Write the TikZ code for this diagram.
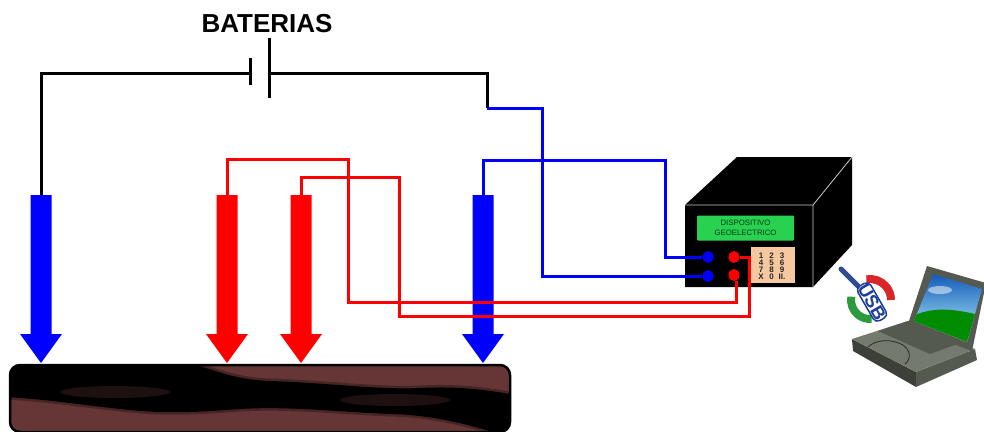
\documentclass[tikz,border=0pt]{standalone}
\usepackage{fontspec}
\setmainfont{Liberation Sans}
\usetikzlibrary{shapes.geometric}
\definecolor{tierra}{HTML}{663636}
\definecolor{verdepantalla}{HTML}{28D250}
\definecolor{textopantalla}{HTML}{0B3A18}
\definecolor{teclas}{HTML}{F5C8A0}
\definecolor{azulusb}{HTML}{1B3F95}
\definecolor{rojousb}{HTML}{D8262B}
\definecolor{verdeusb}{HTML}{2E9A3E}
\definecolor{carcasa}{HTML}{555A50}
\definecolor{carcasaclara}{HTML}{747A6E}
\definecolor{carcasaoscura}{HTML}{3C4038}

% electrode: name, x position, colour
\newcommand\electrodo[3]{%
  \fill[#3] (#2-10.5,195) -- (#2+10.5,195) -- (#2+10.5,334) -- (#2+21,334)
    -- (#2,363) -- (#2-21,334) -- (#2-10.5,334) -- cycle;
  \coordinate (#1) at (#2,195);}

% dark layer crossing the ground
\def\capaoscura{(0,360) -- (165,360) .. controls (205,362) and (220,379) .. (270,381)
  .. controls (330,383) and (380,390) .. (420,388)
  .. controls (460,386) and (490,390) .. (520,396) -- (520,440)
  .. controls (480,428) and (440,415) .. (390,414)
  .. controls (340,412) and (290,406) .. (240,409)
  .. controls (200,412) and (170,414) .. (130,410)
  .. controls (80,405) and (40,398) .. (0,397) -- cycle}

\begin{document}
\begin{tikzpicture}[x=1pt,y=-1pt,
  cable/.style={line width=3pt},
  placa/.style={line width=3pt, black},
  conector/.style={ellipse, minimum width=11pt, minimum height=12pt, inner sep=0pt},
  tecla/.style={font=\fontsize{8}{8}\selectfont\bfseries, text=black!85, inner sep=0pt}]
\useasboundingbox (0,0) rectangle (984,431);

% ground
\begin{scope}
  \clip[rounded corners=10pt] (10,365) rectangle (510,432);
  \fill[tierra] (0,355) rectangle (520,440);
  \draw[black, opacity=.3, line width=5pt] \capaoscura;
  \fill[black] \capaoscura;
  \fill[tierra, opacity=.3] (115,392) ellipse [x radius=55, y radius=6];
  \fill[tierra, opacity=.3] (395,400) ellipse [x radius=55, y radius=6];
\end{scope}
\draw[black, line width=2.5pt, rounded corners=10pt] (10,365) rectangle (510,432);

% electrodes
\electrodo{e1}{41}{blue}
\electrodo{e2}{227}{red}
\electrodo{e3}{301}{red}
\electrodo{e4}{483}{blue}

% battery
\node (titulo) at (267,24) {\fontsize{26}{26}\selectfont\bfseries BATERIAS};
\coordinate (batL) at (250,73);
\coordinate (batR) at (269,73);
\draw[placa] (batL) ++(0,-15) -- ++(0,27);
\draw[placa] (batR) ++(0,-35) -- ++(0,60);

% device
\fill[black] (685,205) -- (737,157) -- (852,157) -- (852,245) -- (813,287) -- (685,287) -- cycle;
\draw[white!80!black, line width=.8pt] (685,205) -- (813,205) -- (852,157) (813,205) -- (813,287);
\node (pantalla) [fill=verdepantalla, rounded corners=1pt, minimum width=97pt, minimum height=25pt,
  inner sep=0pt, align=center, text=textopantalla, font=\fontsize{7.8}{9.6}\selectfont]
  at (745.5,228) {DISPOSITIVO\\GEOELECTRICO};
\node (teclado) [fill=teclas, minimum width=44pt, minimum height=36pt, inner sep=0pt] at (773,264.5) {};
\foreach \t [count=\i from 0] in {1,2,3,4,5,6,7,8,9,X,0,II.} {
  \pgfmathtruncatemacro\col{mod(\i,3)}
  \pgfmathtruncatemacro\fila{int(\i/3)}
  \node[tecla] (k\i) at (761+10.5*\col, 255.5+7.2*\fila) {\t};
}
\node[conector, fill=blue] (cb1) at (708,257) {};
\node[conector, fill=blue] (cb2) at (708,276) {};
\node[conector, fill=red] (cr1) at (734,257) {};
\node[conector, fill=red] (cr2) at (734,275) {};

% wiring
\coordinate (k1) at (487,108);
\coordinate (b2a) at (542,108);
\coordinate (b1a) at (665,160);
\coordinate (r1a) at (348,159);
\coordinate (r1b) at (736,302);
\coordinate (r2a) at (399,177);
\coordinate (r2b) at (749,316);
\draw[cable, black] (e1) |- (batL);
\draw[cable, black] (batR) -| (k1);
\draw[cable, blue] (k1) -- (b2a) |- (cb2.west);
\draw[cable, blue] (e4) |- (b1a) |- (cb1.west);
\draw[cable, red] (e2) |- (r1a) |- (r1b) -- (r1b |- cr2.south);
\draw[cable, red] (e3) |- (r2a) |- (r2b) |- (cr1.east);

% USB logo
\begin{scope}[shift={(870,300)}, yscale=-1]
  \draw[azulusb!80!gray, line width=5pt, line cap=round] (-29,31) -- (-12,14);
  \draw[rojousb, line width=8pt] (100:21) arc[start angle=100, end angle=0, radius=21];
  \draw[verdeusb, line width=8pt] (170:19) arc[start angle=170, end angle=275, radius=19];
  \node (usb) [rotate=-60, fill=white, draw=azulusb, line width=1.5pt, rounded corners=5pt,
    inner sep=1pt, text=azulusb, font=\fontsize{18}{18}\selectfont\bfseries] at (2,-2) {USB};
\end{scope}

% laptop
\fill[carcasaoscura] (852,339) -- (916,372) -- (916,387) -- (853,351) -- cycle;
\fill[carcasa] (916,372) -- (975,349) -- (977,360) -- (916,387) -- cycle;
\fill[carcasaclara] (852,339) -- (908,321) -- (975,349) -- (916,372) -- cycle;
\fill[carcasa] (878,331) -- (908,321) -- (960,343) -- (930,354) -- cycle;
\draw[carcasaoscura!70!black, line width=.8pt] (868,347) .. controls (875,340) and (890,338) .. (903,345)
  .. controls (910,350) and (912,358) .. (905,364);
\fill[carcasa] (927,266) -- (986,283) -- (972,351) -- (907,327) -- cycle;
\begin{scope}
  \clip (933,274) -- (982,289) -- (967,342) -- (914,321) -- cycle;
  \shade[top color=blue!60!cyan!70!black, bottom color=cyan!25!white] (905,266) rectangle (990,345);
  \fill[green!55!black] (905,320) .. controls (930,305) and (955,308) .. (990,318) -- (990,350) -- (905,350) -- cycle;
  \fill[white, opacity=.5] (940,290) ellipse [x radius=12, y radius=4];
\end{scope}
\end{tikzpicture}
\end{document}
